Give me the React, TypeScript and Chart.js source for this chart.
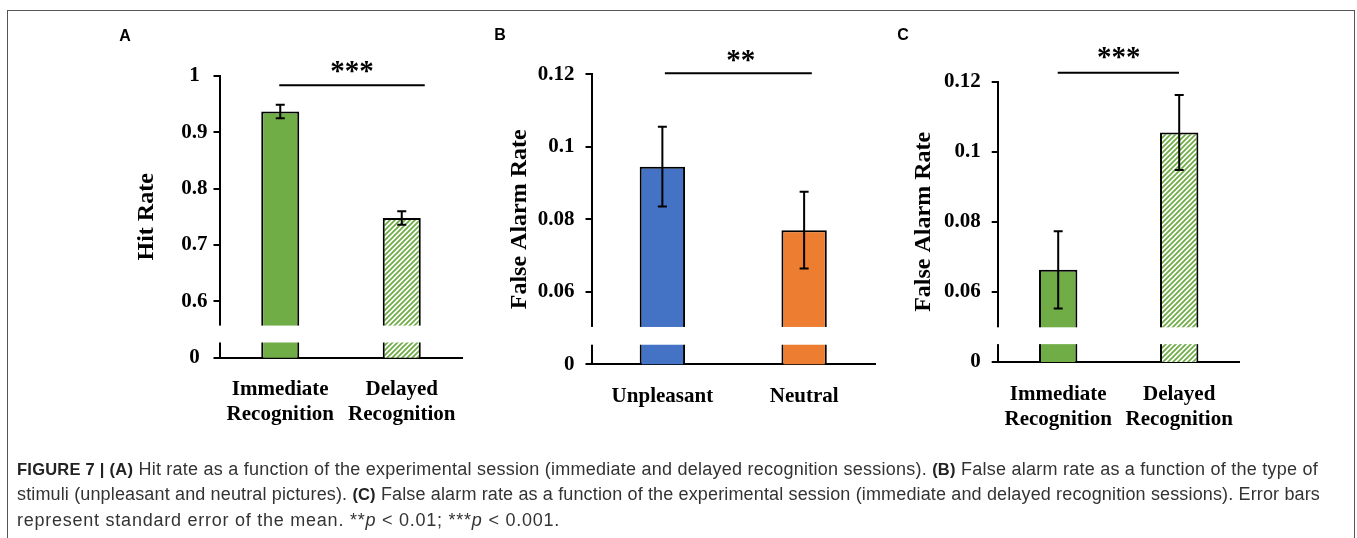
import React, { useEffect, useRef } from 'react';
import { Chart, registerables } from 'chart.js';

Chart.register(...registerables);

// ---------------- data ----------------
// Panel A: hit rate by session
const sessionLabels = [['Immediate', 'Recognition'], ['Delayed', 'Recognition']];
const hitRateMeans = [0.937, 0.748];
const hitRateSEM = [0.012, 0.012];
const hitRateTicks = [0.5, 0.6, 0.7, 0.8, 0.9, 1]; // 0.5 sits below the axis break and is labelled "0"

// Panel B: false alarm rate by stimulus type
const stimulusLabels = ['Unpleasant', 'Neutral'];
const faStimulusMeans = [0.0945, 0.077];
const faStimulusSEM = [0.011, 0.0106];

// Panel C: false alarm rate by session
const faSessionMeans = [0.0663, 0.1055];
const faSessionSEM = [0.011, 0.0107];
const faTicks = [0.04, 0.06, 0.08, 0.1, 0.12]; // 0.04 sits below the axis break and is labelled "0"

// ---------------- styles ----------------
const W = 1357;
const H = 538;
const SERIF = '"Liberation Serif", "Times New Roman", serif';
const SANS = '"Liberation Sans", Arial, sans-serif';
const GREEN = '#70AD47';
const BLUE = '#4472C4';
const ORANGE = '#ED7D31';
const Y_AXIS_W = 110;
const TITLE_FONT = 24;

type PanelCfg = {
  labels: any[];
  means: number[];
  sem: number[];
  ticks: number[];
  min: number;
  max: number;
  yTitle: string;
  fills: (hatch: CanvasPattern | string) => (CanvasPattern | string)[];
  plot: { left: number; right: number; top: number; bottom: number };
  titleX: number;
  crossAlign: 'near' | 'center';
  yTickPad: number;
  xTickPad: number;
  barPct: number;
  axisBreak: [number, number];
  sig: { y: number; x1Off: number; x2Off: number; starsY: number; starsDx: number; stars: string };
};

const PANELS: PanelCfg[] = [
  {
    labels: sessionLabels,
    means: hitRateMeans,
    sem: hitRateSEM,
    ticks: hitRateTicks,
    min: 0.5,
    max: 1,
    yTitle: 'Hit Rate',
    fills: (h) => [GREEN, h],
    plot: { left: 219.5, right: 462.5, top: 76, bottom: 357.7 },
    titleX: 146.7,
    crossAlign: 'center',
    yTickPad: 6,
    xTickPad: 11.4,
    barPct: 0.313,
    axisBreak: [0.527, 0.557],
    sig: { y: 85.3, x1Off: -1, x2Off: 23, starsY: 66.7, starsDx: 0, stars: '***' },
  },
  {
    labels: stimulusLabels,
    means: faStimulusMeans,
    sem: faStimulusSEM,
    ticks: faTicks,
    min: 0.04,
    max: 0.12,
    yTitle: 'False Alarm Rate',
    fills: () => [BLUE, ORANGE],
    plot: { left: 591.5, right: 875, top: 74.3, bottom: 364.3 },
    titleX: 520,
    crossAlign: 'near',
    yTickPad: 11,
    xTickPad: 11.4,
    barPct: 0.32,
    axisBreak: [0.0454, 0.0503],
    sig: { y: 73.3, x1Off: 2.5, x2Off: 7.7, starsY: 56, starsDx: 2.5, stars: '**' },
  },
  {
    labels: sessionLabels,
    means: faSessionMeans,
    sem: faSessionSEM,
    ticks: faTicks,
    min: 0.04,
    max: 0.12,
    yTitle: 'False Alarm Rate',
    fills: (h) => [GREEN, h],
    plot: { left: 997.7, right: 1239.7, top: 81.7, bottom: 362 },
    titleX: 923.3,
    crossAlign: 'near',
    yTickPad: 11,
    xTickPad: 12.1,
    barPct: 0.317,
    axisBreak: [0.0451, 0.0499],
    sig: { y: 72.7, x1Off: -0.5, x2Off: -0.2, starsY: 53.3, starsDx: 0.5, stars: '***' },
  },
];

function makeHatch(color: string): CanvasPattern | string {
  const size = 5;
  const c = document.createElement('canvas');
  c.width = size;
  c.height = size;
  const g = c.getContext('2d');
  if (!g) return color;
  g.fillStyle = '#ffffff';
  g.fillRect(0, 0, size, size);
  g.strokeStyle = color;
  g.lineWidth = 1.8;
  g.beginPath();
  g.moveTo(0, size);
  g.lineTo(size, 0);
  g.moveTo(-1, 1);
  g.lineTo(1, -1);
  g.moveTo(size - 1, size + 1);
  g.lineTo(size + 1, size - 1);
  g.stroke();
  return g.createPattern(c, 'repeat') || color;
}

function fmtTick(v: number, zeroVal: number): string {
  if (Math.abs(v - zeroVal) < 1e-9) return '0';
  return String(Number(v.toFixed(3)));
}

function buildChart(canvas: HTMLCanvasElement, p: PanelCfg): Chart {
  const hatch = makeHatch(GREEN);
  const titleScaleLeft = p.plot.left - Y_AXIS_W;
  const titleLineHalf = (TITLE_FONT * 1.2) / 2;

  const extras = {
    id: 'extras',
    afterDatasetsDraw(chart: any) {
      const ctx = chart.ctx;
      const y = chart.scales.y;
      const meta = chart.getDatasetMeta(0);
      ctx.save();
      ctx.strokeStyle = '#000';
      ctx.lineWidth = 2;
      meta.data.forEach((bar: any, i: number) => {
        const x = bar.x;
        const hi = y.getPixelForValue(p.means[i] + p.sem[i]);
        const lo = y.getPixelForValue(p.means[i] - p.sem[i]);
        const cap = 4.5;
        ctx.beginPath();
        ctx.moveTo(x, hi);
        ctx.lineTo(x, lo);
        ctx.moveTo(x - cap, hi);
        ctx.lineTo(x + cap, hi);
        ctx.moveTo(x - cap, lo);
        ctx.lineTo(x + cap, lo);
        ctx.stroke();
      });
      ctx.restore();
    },
    afterDraw(chart: any) {
      const ctx = chart.ctx;
      const y = chart.scales.y;
      const x = chart.scales.x;
      const area = chart.chartArea;
      ctx.save();
      // axis break gap
      const gTop = y.getPixelForValue(p.axisBreak[1]);
      const gBot = y.getPixelForValue(p.axisBreak[0]);
      ctx.fillStyle = '#ffffff';
      ctx.fillRect(area.left - 4, gTop, area.right - area.left + 6, gBot - gTop);
      // significance bracket
      const x1 = x.getPixelForValue(0) + p.sig.x1Off;
      const x2 = x.getPixelForValue(1) + p.sig.x2Off;
      ctx.strokeStyle = '#000';
      ctx.lineWidth = 2;
      ctx.beginPath();
      ctx.moveTo(x1, p.sig.y);
      ctx.lineTo(x2, p.sig.y);
      ctx.stroke();
      ctx.fillStyle = '#000';
      ctx.font = `bold 29px ${SERIF}`;
      ctx.textAlign = 'center';
      ctx.textBaseline = 'alphabetic';
      const m = ctx.measureText(p.sig.stars);
      const asc = m.actualBoundingBoxAscent || 18;
      const desc = m.actualBoundingBoxDescent || -6;
      ctx.fillText(p.sig.stars, (x1 + x2) / 2 + p.sig.starsDx, p.sig.starsY + (asc - desc) / 2);
      ctx.restore();
    },
  };

  return new Chart(canvas, {
    type: 'bar',
    data: {
      labels: p.labels,
      datasets: [
        {
          data: p.means,
          backgroundColor: p.fills(hatch) as any,
          borderColor: '#000',
          borderWidth: 2,
          barPercentage: p.barPct,
          categoryPercentage: 1,
        },
      ],
    },
    options: {
      animation: false,
      responsive: false,
      devicePixelRatio: 1,
      layout: {
        padding: {
          left: p.plot.left - Y_AXIS_W,
          right: W - p.plot.right,
          top: p.plot.top,
          bottom: 0,
        },
      },
      plugins: {
        legend: { display: false },
        tooltip: { enabled: false },
      },
      scales: {
        x: {
          type: 'category',
          offset: true,
          grid: { display: false },
          border: { display: true, color: '#000', width: 2 },
          ticks: {
            color: '#000',
            font: { family: SERIF, size: 21, weight: 'bold', lineHeight: 1.2 },
            padding: p.xTickPad,
            maxRotation: 0,
            minRotation: 0,
            autoSkip: false,
          },
          afterFit: (s: any) => {
            s.height = H - p.plot.bottom;
          },
        },
        y: {
          type: 'linear',
          min: p.min,
          max: p.max,
          grid: {
            display: true,
            drawOnChartArea: false,
            drawTicks: true,
            tickLength: 6,
            color: '#000',
            lineWidth: 2,
          },
          border: { display: true, color: '#000', width: 2 },
          ticks: {
            color: '#000',
            font: { family: SERIF, size: 21, weight: 'bold' },
            padding: p.yTickPad,
            crossAlign: p.crossAlign,
            callback: (v: any) => fmtTick(Number(v), p.ticks[0]),
          },
          afterBuildTicks: (s: any) => {
            s.ticks = p.ticks.map((v) => ({ value: v }));
          },
          title: {
            display: true,
            text: p.yTitle,
            color: '#000',
            font: { family: SERIF, size: TITLE_FONT, weight: 'bold', lineHeight: 1.2 },
            padding: { top: p.titleX - titleScaleLeft - titleLineHalf, bottom: 0 },
          },
          afterFit: (s: any) => {
            s.width = Y_AXIS_W;
          },
        },
      },
    },
    plugins: [extras],
  } as any);
}

function Panel({ cfg }: { cfg: PanelCfg }) {
  const ref = useRef<HTMLCanvasElement | null>(null);
  useEffect(() => {
    if (!ref.current) return;
    const chart = buildChart(ref.current, cfg);
    return () => chart.destroy();
  }, [cfg]);
  return (
    <canvas
      ref={ref}
      width={W}
      height={H}
      style={{ position: 'absolute', left: 0, top: 0, width: W, height: H }}
    />
  );
}

const letterStyle = (x: number, y: number): React.CSSProperties => ({
  position: 'absolute',
  left: x,
  top: y,
  transform: 'translate(-50%, -50%)',
  font: `bold 16px ${SANS}`,
  lineHeight: '16px',
  color: '#000',
});

const CAPTION_LEFT = 17;
const boldStyle: React.CSSProperties = { fontWeight: 'bold', fontSize: 16.5, color: '#222' };

// A caption line whose letter spacing is fitted so that it ends where the reference line ends.
function CaptionLine({ y, endX, children }: { y: number; endX: number; children: React.ReactNode }) {
  const ref = useRef<HTMLDivElement | null>(null);
  useEffect(() => {
    const fit = () => {
      const el = ref.current;
      if (!el) return;
      el.style.letterSpacing = '0px';
      const w = el.getBoundingClientRect().width;
      const n = (el.textContent || '').length;
      if (n > 0) el.style.letterSpacing = `${(endX - CAPTION_LEFT - w) / n}px`;
    };
    fit();
    if ((document as any).fonts && (document as any).fonts.ready) {
      (document as any).fonts.ready.then(fit);
    }
  }, [endX]);
  return (
    <div
      ref={ref}
      style={{
        position: 'absolute',
        left: CAPTION_LEFT,
        top: y - 11,
        font: `18px ${SANS}`,
        lineHeight: '22px',
        color: '#333',
        whiteSpace: 'nowrap',
      }}
    >
      {children}
    </div>
  );
}

export default function App() {
  return (
    <div
      style={{
        position: 'absolute',
        left: 0,
        top: 0,
        width: W,
        height: H,
        background: '#fff',
        overflow: 'hidden',
      }}
    >
      <div
        style={{
          position: 'absolute',
          left: 7,
          top: 10,
          width: 1348,
          height: 600,
          border: '1px solid #555',
          boxSizing: 'border-box',
        }}
      />
      {PANELS.map((p, i) => (
        <Panel key={i} cfg={p} />
      ))}
      <div style={letterStyle(125, 35.5)}>A</div>
      <div style={letterStyle(500, 35)}>B</div>
      <div style={letterStyle(903, 35)}>C</div>
      <CaptionLine y={469} endX={1318}>
        <span style={boldStyle}>FIGURE 7 | (A)</span> Hit rate as a function of the experimental session (immediate and delayed recognition sessions). <span style={boldStyle}>(B)</span> False alarm rate as a function of the type of
      </CaptionLine>
      <CaptionLine y={494} endX={1320}>
        stimuli (unpleasant and neutral pictures). <span style={boldStyle}>(C)</span> False alarm rate as a function of the experimental session (immediate and delayed recognition sessions). Error bars
      </CaptionLine>
      <CaptionLine y={520} endX={560}>
        represent standard error of the mean. **<i>p</i> &lt; 0.01; ***<i>p</i> &lt; 0.001.
      </CaptionLine>
    </div>
  );
}
